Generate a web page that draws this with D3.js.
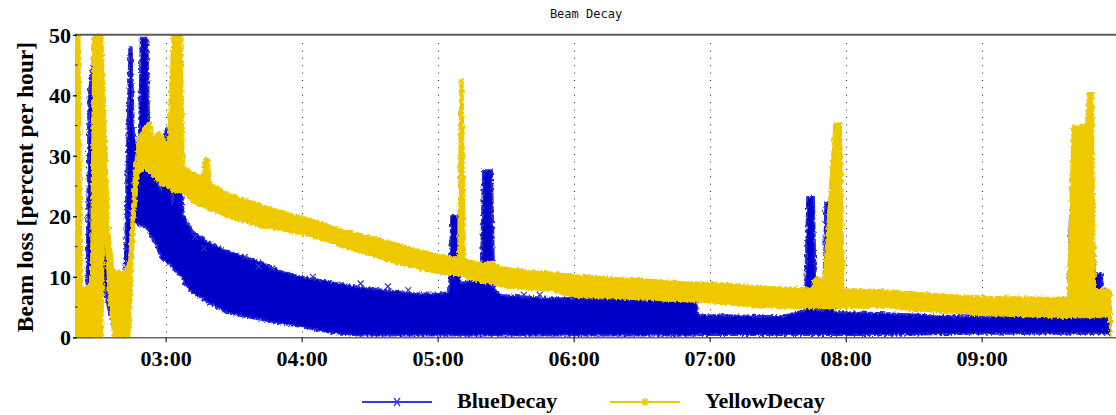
<!DOCTYPE html>
<html><head><meta charset="utf-8">
<script src="https://cdn.jsdelivr.net/npm/d3@7"></script>
<style>body{margin:0;background:#fff;} svg{display:block;}</style>
</head><body>
<svg id="chart" width="1116" height="415"></svg>
<script>
// ---------------- data ----------------
const chartTitle = "Beam Decay";
const yAxisTitle = "Beam loss [percent per hour]";
const seriesNames = ["BlueDecay", "YellowDecay"];
const xTickLabels = ["03:00", "04:00", "05:00", "06:00", "07:00", "08:00", "09:00"];
const yTickValues = [0, 10, 20, 30, 40, 50];
const yMinorTickValues = [5, 15, 25, 35, 45];
const timeDomain = ["02:20", "10:00"];

// BlueDecay: envelope of the dense band (low / high), percent per hour
const blueTimes = ["02:20","02:22","02:23","02:25","02:26","02:28","02:30","02:31","02:33","02:35","02:37","02:39","02:41","02:42","02:43","02:44","02:45","02:46","02:48","02:49","02:52","02:53","02:56","02:58","03:00","03:02","03:03","03:04","03:07","03:08","03:12","03:20","03:27","03:35","03:42","03:50","04:00","04:12","04:25","04:37","04:49","05:00","05:05","05:06","05:09","05:10","05:19","05:20","05:24","05:25","05:28","05:40","05:50","06:05","06:20","06:34","06:54","06:55","07:15","07:32","07:42","07:43","07:46","07:47","07:50","07:51","07:54","07:55","08:15","08:40","08:59","09:20","09:38","09:39","09:49","09:50","09:53","09:54","09:57"];
const blueLow  = [0,0,0,0,0,0,3,12,8,4,1,0,0,0,5,15,19,19,18.5,18.5,18,17,15,13,12.5,12,11.5,11,10,9,7.3,5.5,4,3.4,2.9,2.3,1.7,0.8,0.3,0.3,0.3,0.3,0.3,0.3,0.3,0.3,0.3,0.3,0.3,0.3,0.3,0.3,0.3,0.3,0.3,0.3,0.3,0.4,0.4,0.4,0.4,0.4,0.4,0.4,0.4,0.4,0.4,0.4,0.4,0.5,0.6,0.6,0.6,0.6,0.6,0.6,0.6,0.6,0.3];
const blueHigh = [1,1,5.5,5.5,40,47,45,25,18,12,7,2,2,13,32,48,48,34,30,49.5,49.5,28,26,24,34.5,34.5,22,26,26,20,17.5,15.5,14.3,13.3,12.5,11,10,9.2,8.3,7.8,7.3,7.2,7.5,20.2,20.2,9,9.5,27.6,27.6,8,7,6.7,6.5,6.4,6.3,6.2,5.9,3.7,3.6,3.5,4.5,23.2,23.2,4.5,4.5,22.2,22.2,4.2,4,3.6,3.4,3.5,3.7,21.9,21.9,10.6,10.6,4.5,4];
// scattered BlueDecay markers above the band
const blueOutlierTimes  = ["03:13","03:17","03:35","03:41","03:47","04:05","04:26","04:38","04:47","05:38","05:45"];
const blueOutlierValues = [16.6,14.7,13.3,11.7,11.4,10.0,8.9,8.4,7.8,7.0,7.0];

// YellowDecay: envelope of the dense band (low / high), percent per hour
const yellowTimes = ["02:20","02:22","02:23","02:27","02:28","02:32","02:33","02:35","02:37","02:39","02:42","02:44","02:45","02:46","02:48","02:51","02:53","02:55","02:57","02:59","03:01","03:03","03:07","03:08","03:12","03:16","03:17","03:19","03:20","03:27","03:35","03:42","03:50","04:00","04:10","04:18","04:30","04:40","04:50","05:00","05:09","05:10","05:11","05:12","05:20","05:24","05:28","05:40","05:50","06:00","06:15","06:34","06:45","07:00","07:15","07:32","07:45","07:46","07:49","07:50","07:55","07:58","07:59","08:15","08:30","08:45","08:59","09:15","09:38","09:40","09:46","09:47","09:49","09:50","09:56","09:57"];
const yellowLow  = [0,0,0,0,0,0,20,6,0,0,0,0,8,18,27,28,27,26.5,25.5,25,25,24,24,24,22.2,21.5,21.5,21,21,19.9,19,18.2,17.8,17,16,14.9,13.6,12.4,11.5,10.6,10.2,10.2,10.2,10,9,8.8,8.3,8,7.7,6.7,6.5,6.2,6,5.8,5.2,4.8,4.8,4.8,4.8,4.8,4.8,4.8,4.9,5,4.5,4.1,3.7,3.5,3.2,3.3,3.3,3.3,3.3,3.3,3.5,0];
const yellowHigh = [50,50,8,9,50,50,40,18,11,11,11,13,20,27,33,35,35.5,33,34,33,32,50,50,28,27.3,26.5,29.5,29.5,25.5,23.8,22.8,21.9,21,19.9,18.8,17.7,16.7,15.7,14.6,13.6,13.2,42.5,42.5,12.8,12.3,12.5,11.5,11,10.7,10.3,9.9,9.5,9.2,9,8.6,8.2,8.1,9.8,9.8,8.2,35.4,35.4,8,7.8,7.4,7,6.7,6.6,6.5,35,35,40.4,40.4,8,8,7];

// ---------------- drawing ----------------
const blueColor = "#0000c8", yellowColor = "#eec900";
const svg = d3.select("#chart");
const parseT = d3.timeParse("%H:%M");
const plotLeft = 75, plotRight = 1117.7, plotTop = 34.8, plotBottom = 337.3;

const x = d3.scaleTime().domain(timeDomain.map(parseT)).range([plotLeft, plotRight]);
const y = d3.scaleLinear().domain([0, 50]).range([plotBottom, plotTop]);

const defs = svg.append("defs");
defs.append("clipPath").attr("id", "plotClip")
  .append("rect").attr("x", plotLeft).attr("y", plotTop).attr("width", 1116 - plotLeft).attr("height", plotBottom - plotTop + 1);
// roughen band edges to imitate the dense marker texture
const rough = defs.append("filter").attr("id", "rough")
  .attr("x", "-2%").attr("y", "-5%").attr("width", "104%").attr("height", "110%");
rough.append("feTurbulence").attr("type", "fractalNoise").attr("baseFrequency", "0.45 0.3")
  .attr("numOctaves", 2).attr("seed", 4).attr("result", "noise");
rough.append("feDisplacementMap").attr("in", "SourceGraphic").attr("in2", "noise")
  .attr("scale", 5).attr("xChannelSelector", "R").attr("yChannelSelector", "G");

// title
svg.append("text").attr("x", 586).attr("y", 18).attr("text-anchor", "middle")
  .attr("font-family", "DejaVu Sans Mono, monospace").attr("font-size", 12).attr("fill", "#111")
  .text(chartTitle);

// vertical dotted grid at each hour
const hourTimes = xTickLabels.map(parseT);
svg.append("g").selectAll("line").data(hourTimes).join("line")
  .attr("x1", d => Math.round(x(d)) + 0.5).attr("x2", d => Math.round(x(d)) + 0.5)
  .attr("y1", 43).attr("y2", plotBottom)
  .attr("stroke", "#222").attr("stroke-width", 1).attr("stroke-dasharray", "1,6.4");

// data
const plot = svg.append("g").attr("clip-path", "url(#plotClip)");
function band(times, lo, hi) {
  return times.map((t, i) => ({ t: parseT(t), lo: lo[i], hi: hi[i] }));
}
const area = d3.area().x(d => x(d.t)).y0(d => y(d.lo)).y1(d => y(d.hi));
const blueData = band(blueTimes, blueLow, blueHigh);
const yellowData = band(yellowTimes, yellowLow, yellowHigh);

plot.append("path").datum(blueData).attr("d", area).attr("filter", "url(#rough)")
  .attr("fill", blueColor).attr("stroke", "#2a2ad6").attr("stroke-width", 2).attr("stroke-linejoin", "round");
const xMark = "M-3,-3L3,3M-3,3L3,-3";
plot.append("g").selectAll("path").data(blueOutlierTimes.map((t, i) => ({ t: parseT(t), v: blueOutlierValues[i] })))
  .join("path").attr("transform", d => `translate(${x(d.t)},${y(d.v)})`)
  .attr("d", xMark).attr("stroke", "#3030d8").attr("stroke-width", 1.2).attr("fill", "none");
plot.append("path").datum(yellowData).attr("d", area).attr("filter", "url(#rough)")
  .attr("fill", yellowColor).attr("stroke", yellowColor).attr("stroke-width", 2).attr("stroke-linejoin", "round");

// frame: top line and bottom axis line
svg.append("line").attr("x1", plotLeft).attr("x2", 1116).attr("y1", plotTop).attr("y2", plotTop)
  .attr("stroke", "#5a5a5a").attr("stroke-width", 2);
svg.append("line").attr("x1", plotLeft - 2).attr("x2", 1116).attr("y1", plotBottom + 0.5).attr("y2", plotBottom + 0.5)
  .attr("stroke", "#666").attr("stroke-width", 1.5);

// x axis ticks and labels
const xAxis = d3.axisBottom(x).tickValues(hourTimes).tickFormat(d3.timeFormat("%H:%M")).tickSize(5).tickSizeOuter(0);
const gx = svg.append("g").attr("transform", `translate(0,${plotBottom})`).call(xAxis);
gx.select(".domain").remove();
gx.selectAll(".tick line").attr("stroke", "#222").attr("stroke-width", 1.2);
gx.selectAll(".tick text").attr("font-family", "Liberation Serif, Times New Roman, serif")
  .attr("font-weight", "bold").attr("font-size", 22).attr("fill", "#000").attr("dy", null).attr("y", 29);

// y axis ticks and labels
const yAxis = d3.axisLeft(y).tickValues(yTickValues).tickFormat(d3.format("d")).tickSize(4).tickPadding(2).tickSizeOuter(0);
const gy = svg.append("g").attr("transform", `translate(${plotLeft + 2},0)`).call(yAxis);
gy.select(".domain").remove();
gy.selectAll(".tick line").attr("stroke", "#222").attr("stroke-width", 1.5);
gy.selectAll(".tick text").attr("font-family", "Liberation Serif, Times New Roman, serif")
  .attr("font-weight", "bold").attr("font-size", 22).attr("fill", "#000").attr("dy", "0.34em");
svg.append("g").selectAll("line").data(yMinorTickValues).join("line")
  .attr("x1", plotLeft).attr("x2", plotLeft + 2.5).attr("y1", d => y(d)).attr("y2", d => y(d))
  .attr("stroke", "#333").attr("stroke-width", 1.2);

// y axis title
svg.append("text").attr("transform", `translate(33,${(plotTop + plotBottom) / 2 + 1}) rotate(-90)`)
  .attr("text-anchor", "middle").attr("font-family", "Liberation Serif, Times New Roman, serif")
  .attr("font-weight", "bold").attr("font-size", 23.5).attr("fill", "#000").text(yAxisTitle);

// legend
const legendItems = [
  { name: seriesNames[0], color: "#3a3ad8", x0: 362, mark: "x" },
  { name: seriesNames[1], color: "#eec900", x0: 610, mark: "*" }
];
const lg = svg.append("g");
legendItems.forEach(it => {
  const g = lg.append("g");
  g.append("line").attr("x1", it.x0).attr("x2", it.x0 + 70).attr("y1", 402).attr("y2", 402)
    .attr("stroke", it.color).attr("stroke-width", 2);
  const cx = it.x0 + 35;
  if (it.mark === "x") {
    g.append("path").attr("d", `M${cx-3},${398}L${cx+3},${406}M${cx-3},${406}L${cx+3},${398}`)
      .attr("stroke", it.color).attr("stroke-width", 1.3).attr("fill", "none");
  } else {
    g.append("path").attr("d", `M${cx-4},402L${cx+4},402M${cx},398L${cx},406M${cx-3},399L${cx+3},405M${cx-3},405L${cx+3},399`)
      .attr("stroke", it.color).attr("stroke-width", 1.5).attr("fill", "none");
  }
  g.append("text").attr("x", it.x0 + 95).attr("y", 408)
    .attr("font-family", "Liberation Serif, Times New Roman, serif").attr("font-weight", "bold")
    .attr("font-size", 22).attr("fill", "#000").text(it.name);
});
</script>
</body></html>
